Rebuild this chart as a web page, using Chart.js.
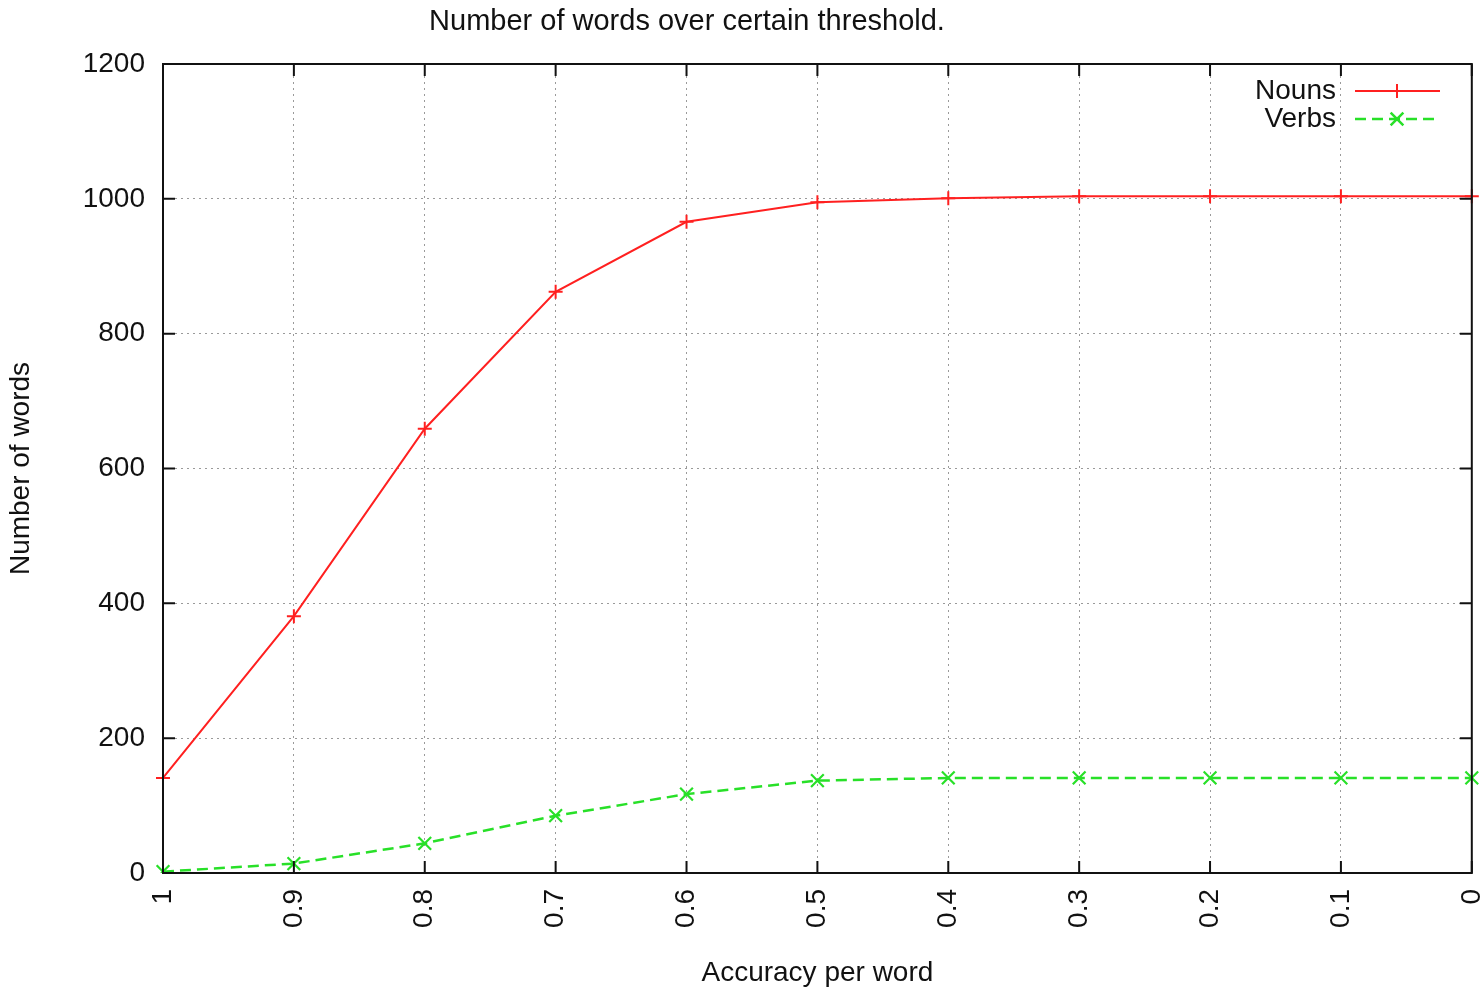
<!DOCTYPE html>
<html>
<head>
<meta charset="utf-8">
<script src="https://cdn.jsdelivr.net/npm/chart.js@4"></script>
<style>
  html, body { margin: 0; padding: 0; background: #fff; }
  #wrap { width: 1483px; height: 992px; position: relative; }
</style>
</head>
<body>
<div id="wrap"><canvas id="myChart"></canvas></div>
<script>
// data
var thresholds = ['1', '0.9', '0.8', '0.7', '0.6', '0.5', '0.4', '0.3', '0.2', '0.1', '0'];
var nouns = [141, 381, 659, 862, 966, 995, 1001, 1004, 1004, 1004, 1004];
var verbs = [2, 14, 44, 85, 117, 137, 141, 141, 141, 141, 141];
var yTicks = [0, 200, 400, 600, 800, 1000, 1200];

var FONT = 'Liberation Sans, Arial, Helvetica, sans-serif';
var RED = '#ff2020';
var GREEN = '#28e028';

// frame + inward ticks, like gnuplot
var framePlugin = {
  id: 'frame',
  afterDatasetsDraw: function(chart) {
    var ctx = chart.ctx, a = chart.chartArea;
    var xs = chart.scales.x, ys = chart.scales.y;
    ctx.save();
    ctx.strokeStyle = '#111';
    ctx.lineWidth = 2;
    ctx.strokeRect(a.left, a.top, a.right - a.left, a.bottom - a.top);
    ctx.beginPath();
    xs.ticks.forEach(function(t, i) {
      var px = xs.getPixelForTick(i);
      ctx.moveTo(px, a.bottom); ctx.lineTo(px, a.bottom - 12);
      ctx.moveTo(px, a.top); ctx.lineTo(px, a.top + 12);
    });
    ys.ticks.forEach(function(t, i) {
      var py = ys.getPixelForTick(i);
      ctx.moveTo(a.left, py); ctx.lineTo(a.left + 12, py);
      ctx.moveTo(a.right, py); ctx.lineTo(a.right - 12, py);
    });
    ctx.stroke();
    ctx.restore();
  },
  afterDraw: function(chart) {
    var ctx = chart.ctx;
    ctx.save();
    // title
    ctx.fillStyle = '#111';
    ctx.font = '29px ' + FONT;
    ctx.textAlign = 'center';
    ctx.textBaseline = 'middle';
    ctx.fillText('Number of words over certain threshold.', 687, 22);
    // legend inside top right
    ctx.font = '28px ' + FONT;
    var rows = [[chart.data.datasets[0], 91], [chart.data.datasets[1], 119]];
    rows.forEach(function(r) {
      var ds = r[0], y = r[1];
      ctx.textAlign = 'right';
      ctx.fillStyle = '#111';
      ctx.fillText(ds.label, 1336, y);
      ctx.strokeStyle = ds.borderColor;
      ctx.lineWidth = ds.borderWidth;
      ctx.setLineDash(ds.borderDash || []);
      ctx.beginPath();
      ctx.moveTo(1355, y); ctx.lineTo(1440, y);
      ctx.stroke();
      ctx.setLineDash([]);
      Chart.helpers.drawPoint(ctx, {
        pointStyle: ds.pointStyle, radius: ds.pointRadius,
        borderWidth: ds.pointBorderWidth, rotation: 0
      }, 1397, y);
    });
    ctx.restore();
  }
};

var ctx = document.getElementById('myChart');
var myChart = new Chart(ctx, {
  type: 'line',
  data: {
    labels: thresholds,
    datasets: [
      {
        label: 'Nouns',
        data: nouns,
        borderColor: RED,
        backgroundColor: RED,
        borderWidth: 2,
        pointStyle: 'cross',
        pointRadius: 7,
        pointBorderWidth: 2,
        pointBorderColor: RED,
        tension: 0,
        fill: false
      },
      {
        label: 'Verbs',
        data: verbs,
        borderColor: GREEN,
        backgroundColor: GREEN,
        borderWidth: 2.5,
        borderDash: [11, 6],
        pointStyle: 'crossRot',
        pointRadius: 9,
        pointBorderWidth: 2.2,
        pointBorderColor: GREEN,
        tension: 0,
        fill: false
      }
    ]
  },
  options: {
    responsive: true,
    maintainAspectRatio: false,
    animation: false,
    layout: { padding: { top: 64, right: 8, left: 0, bottom: 0 } },
    plugins: {
      legend: { display: false },
      tooltip: { enabled: false }
    },
    scales: {
      x: {
        offset: false,
        grid: { color: '#9a9a9a', lineWidth: 1, drawTicks: false },
        border: { display: false, dash: [2, 4] },
        ticks: {
          color: '#111', font: { family: FONT, size: 28 },
          minRotation: 90, maxRotation: 90, padding: 16, autoSkip: false
        },
        title: {
          display: true, text: 'Accuracy per word', color: '#111',
          font: { family: FONT, size: 28 }, padding: { top: 4, bottom: 2 }
        },
        afterFit: function(s) { s.height = 119; s.paddingLeft = 0; s.paddingRight = 0; }
      },
      y: {
        min: 0, max: 1200,
        afterBuildTicks: function(s) { s.ticks = yTicks.map(function(v) { return { value: v }; }); },
        grid: { color: '#9a9a9a', lineWidth: 1, drawTicks: false },
        border: { display: false, dash: [2, 4] },
        ticks: {
          color: '#111', font: { family: FONT, size: 28 }, padding: 18,
          callback: function(v) { return String(v); }
        },
        title: {
          display: true, text: 'Number of words', color: '#111',
          font: { family: FONT, size: 28 }, padding: { top: 4, bottom: 5 }
        },
        afterFit: function(s) { s.width = 163; }
      }
    }
  },
  plugins: [framePlugin]
});
</script>
</body>
</html>
